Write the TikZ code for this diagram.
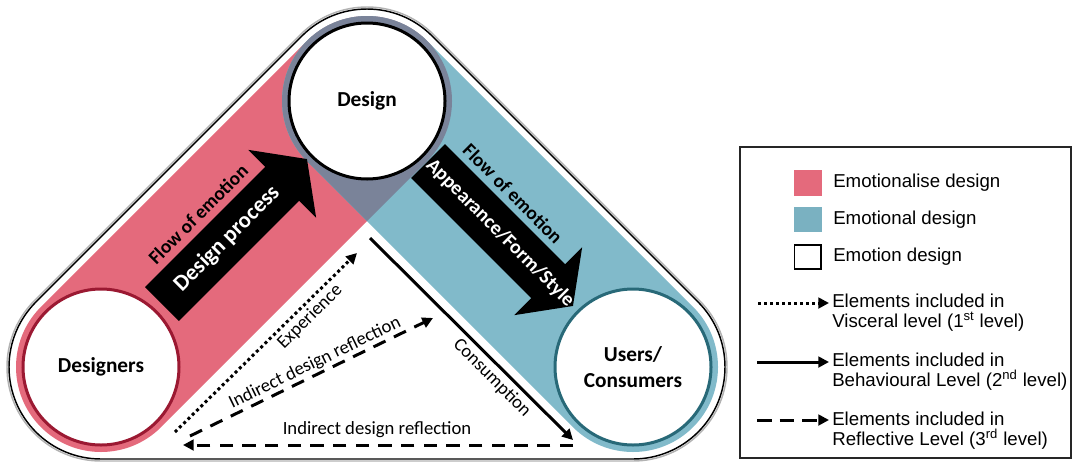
\documentclass[tikz,border=0pt]{standalone}
\usepackage{fontspec}
\setmainfont{Carlito}
\newfontfamily\legendfont{Liberation Sans}
\usetikzlibrary{arrows.meta}

\definecolor{pinkband}{RGB}{228,106,124}
\definecolor{blueband}{RGB}{129,186,202}
\definecolor{legendblue}{RGB}{122,177,193}
\definecolor{overlap}{RGB}{122,131,153}
\definecolor{designersring}{RGB}{155,25,50}
\definecolor{usersring}{RGB}{40,105,120}

\tikzset{
  band/.style={line width=127.5pt, line cap=round},
  unit/.style={circle, fill=white, minimum size=117pt, inner sep=0pt, line width=2.25pt,
    font=\fontsize{16}{19.5}\selectfont\bfseries, align=center},
  bigarrow/.style={fill=black},
  processtext/.style={text=white, font=\fontsize{17}{20}\selectfont\bfseries},
  styletext/.style={text=white, font=\fontsize{15}{18}\selectfont\bfseries},
  flowtext/.style={font=\fontsize{14.5}{17}\selectfont\bfseries},
  linktext/.style={font=\fontsize{14}{17}\selectfont},
  dotline/.style={line width=2.25pt, dash pattern=on 2.25pt off 2.25pt, -{Triangle[length=8pt,width=8pt]}},
  solidline/.style={line width=2.25pt, -{Triangle[length=8pt,width=8pt]}},
  dashline/.style={line width=2.25pt, dash pattern=on 10pt off 7pt, -{Triangle[length=8pt,width=8pt]}},
  legendtext/.style={font=\legendfont\fontsize{14}{15}\selectfont, align=left, anchor=west, inner sep=0pt},
}

\begin{document}
\begin{tikzpicture}[x=0.75pt, y=0.75pt]
    \useasboundingbox (0,0) rectangle (1073,-461);
    \coordinate (L) at (101,-367);
    \coordinate (D) at (367,-101);
    \coordinate (U) at (633,-367);

    \draw[band, pinkband] (L) -- (D);
    \draw[band, blueband] (D) -- (U);
    \fill[overlap] (D) circle (85);
    \fill[overlap] (D) -- (427.1,-161.1) -- (367,-221.2) -- (306.9,-161.1) -- cycle;

    \foreach \r/\c in {94/black!30, 92/black} {
        \draw[\c, line width=1.1pt] ([shift={(135:\r)}]L) -- ([shift={(135:\r)}]D)
            arc[start angle=135, end angle=45, radius=\r]
            -- ([shift={(45:\r)}]U) arc[start angle=45, end angle=-90, radius=\r]
            -- ([shift={(-90:\r)}]L) arc[start angle=-90, end angle=-225, radius=\r] -- cycle;
    }

    \begin{scope}[shift={(162,-304)}, rotate=45, transform shape]
        \fill[bigarrow] (0,-24) -- (170,-24) -- (170,-48) -- (205,0) -- (170,48) -- (170,24) -- (0,24) -- cycle;
        \node[processtext] (process) at (92,0) {Design process};
        \node[flowtext] (flowleft) at (89,38) {Flow of emotion};
    \end{scope}
    \begin{scope}[shift={(428,-161)}, rotate=-45, transform shape]
        \fill[bigarrow] (0,-24) -- (170,-24) -- (170,-48) -- (205,0) -- (170,48) -- (170,24) -- (0,24) -- cycle;
        \node[styletext] (style) at (102,0) {Appearance/Form/Style};
        \node[flowtext] (flowright) at (83,37) {Flow of emotion};
    \end{scope}

    \node[unit, draw=black] (design) at (D) {Design};
    \node[unit, draw=designersring] (designers) at (L) {Designers};
    \node[unit, draw=usersring] (users) at (U) {Users/\\Consumers};

    \coordinate (expstart) at (175,-432);
    \coordinate (expend) at (357,-253);
    \draw[dotline] (expstart) -- (expend);
    \node[linktext, rotate=45] (experience) at (310,-317) {Experience};

    \coordinate (consstart) at (370,-238);
    \coordinate (consend) at (573,-440);
    \draw[solidline] (consstart) -- (consend);
    \node[linktext, rotate=-45] (consumption) at (492,-378) {Consumption};

    \coordinate (reflstart) at (190,-436);
    \coordinate (reflend) at (433,-318);
    \draw[dashline] (reflstart) -- (reflend);
    \node[linktext, rotate=25.9] (reflup) at (315,-363) {Indirect design reflection};

    \coordinate (backstart) at (573,-445);
    \coordinate (backend) at (183,-445);
    \draw[dashline] (backstart) -- (backend);
    \node[linktext] (reflback) at (377,-430) {Indirect design reflection};

    % legend
    \draw[line width=1.2pt, black!85] (740,-147) rectangle (1071,-458);
    \fill[pinkband] (794,-170) rectangle (822,-196);
    \fill[legendblue] (794,-207) rectangle (822,-232);
    \draw[line width=1.2pt, fill=white] (794.5,-245) rectangle (821,-269);
    \node[legendtext] (keypink) at (833,-183) {Emotionalise design};
    \node[legendtext] (keyblue) at (833,-220) {Emotional design};
    \node[legendtext] (keywhite) at (833,-257) {Emotion design};

    \coordinate (keydot) at (758,-303);
    \coordinate (keysolid) at (757,-362);
    \coordinate (keydash) at (757,-420);
    \draw[dotline] (keydot) -- ++(71,0);
    \draw[solidline] (keysolid) -- ++(72,0);
    \draw[dashline, dash pattern=on 11pt off 6pt] (keydash) -- ++(72,0);
    \node[legendtext] (keyvisceral) at (832,-313) {Elements included in\\Visceral level (1\textsuperscript{st} level)};
    \node[legendtext] (keybehaviour) at (832,-372) {Elements included in\\Behavioural Level (2\textsuperscript{nd} level)};
    \node[legendtext] (keyreflective) at (832,-431) {Elements included in\\Reflective Level (3\textsuperscript{rd} level)};
\end{tikzpicture}
\end{document}
